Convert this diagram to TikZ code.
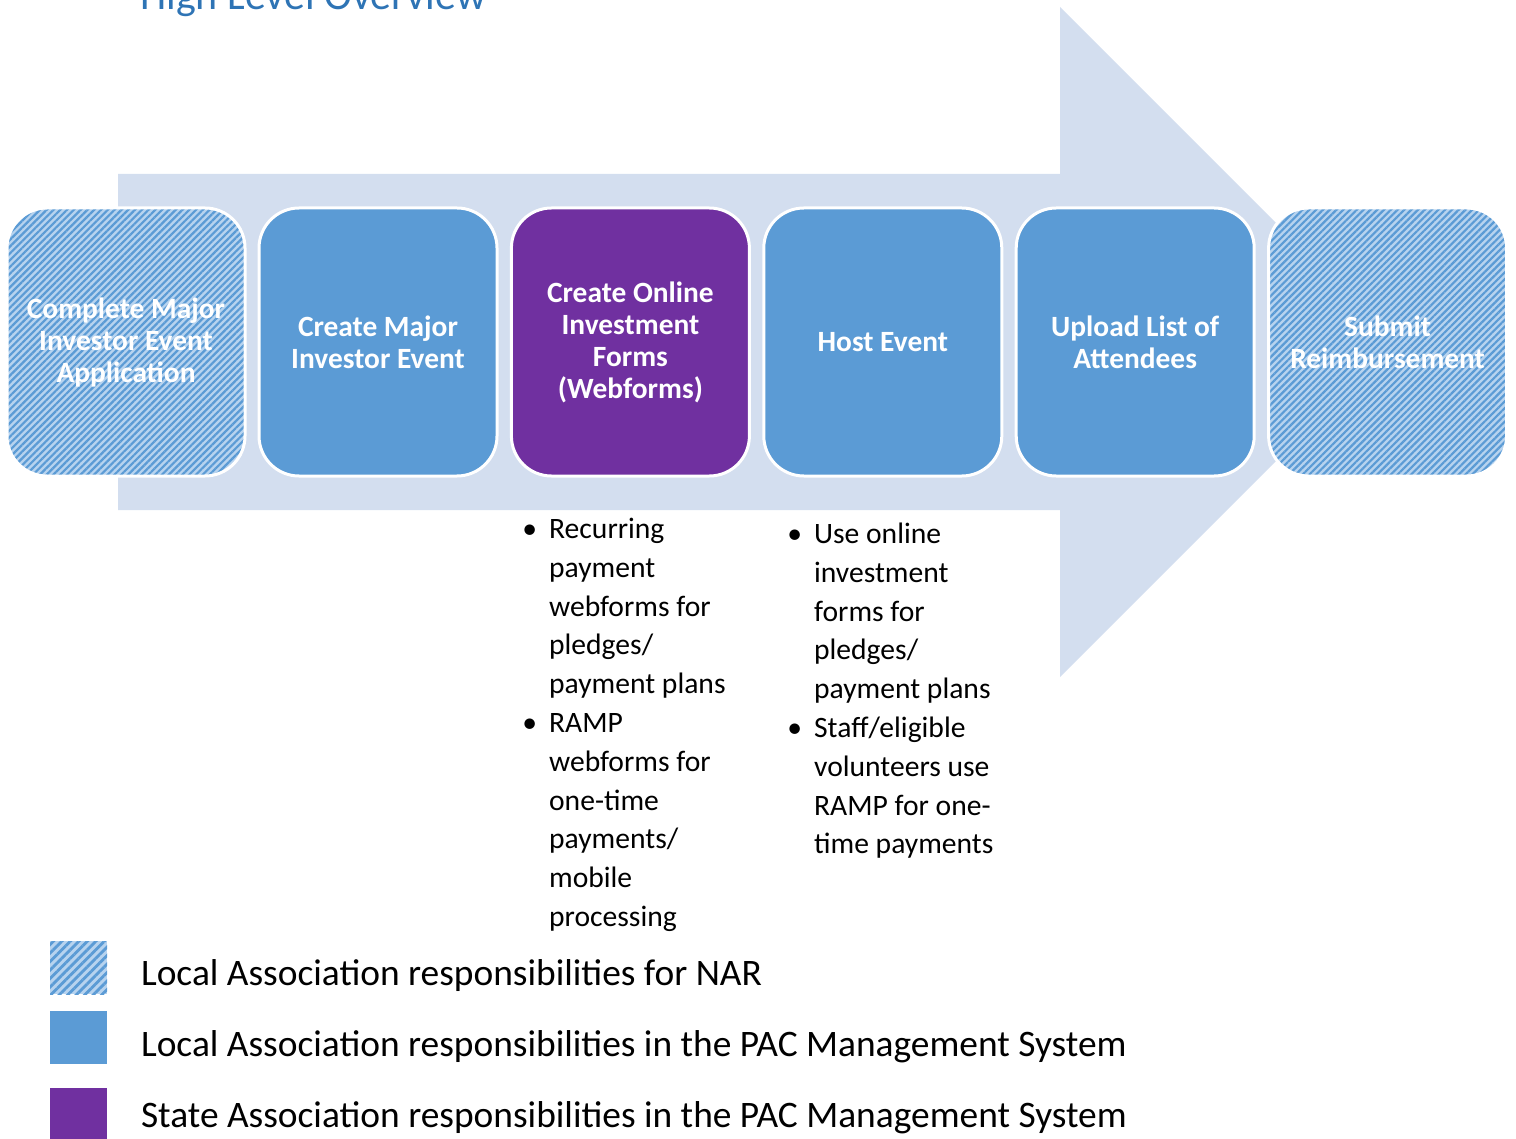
\documentclass[tikz,border=0pt]{standalone}
\usepackage{fontspec}
\setmainfont{Carlito}
\usetikzlibrary{positioning,patterns.meta}

\definecolor{arrowfill}{HTML}{D3DEEF}
\definecolor{boxblue}{HTML}{5B9BD5}
\definecolor{hatchlight}{HTML}{B7D3EF}
\definecolor{stateviolet}{HTML}{7030A0}
\definecolor{titleblue}{HTML}{2E74B5}

\tikzset{
  stepbox/.style={rounded corners=20pt, draw=white, line width=1.5pt,
    minimum width=119pt, minimum height=134pt, inner sep=2pt,
    align=center, text=white, font=\fontsize{14.7}{16}\selectfont\bfseries},
  localbox/.style={stepbox, fill=boxblue},
  statebox/.style={stepbox, fill=stateviolet},
  narbox/.style={stepbox, preaction={fill=hatchlight},
    pattern={Lines[angle=45,distance=2.4pt,line width=1.1pt]}, pattern color=boxblue},
  keybox/.style={minimum width=28.5pt, minimum height=26.5pt, inner sep=0pt},
  keytext/.style={anchor=west, font=\fontsize{18.7}{22}\selectfont},
  notes/.style={anchor=north west, inner sep=0pt, align=left,
    font=\fontsize{14.8}{19.4}\selectfont},
}

\begin{document}
\begin{tikzpicture}[x=0.5pt,y=-0.5pt]
  \useasboundingbox (0,0) rectangle (1516,1139);
  % big background arrow
  \fill[arrowfill] (118,174) -- (1060,174) -- (1060,7) -- (1395,342)
    -- (1060,677) -- (1060,510) -- (118,510) -- cycle;
  \node[anchor=base west, inner sep=0pt, text=titleblue, font=\fontsize{21}{24}\selectfont]
    (title) at (140,10) {High Level Overview};

  % process steps
  \node[narbox] (apply) at (126,342) {Complete Major\\Investor Event\\Application};
  \node[localbox, right=5.7pt of apply] (create) {Create Major\\Investor Event};
  \node[statebox, right=5.7pt of create] (webforms) {Create Online\\Investment\\Forms\\(Webforms)};
  \node[localbox, right=5.7pt of webforms] (host) {Host Event};
  \node[localbox, right=5.7pt of host] (upload) {Upload List of\\Attendees};
  \node[narbox, right=5.7pt of upload] (reimb) {Submit\\Reimbursement};

  % notes under the state and host steps
  \node[notes] (webnotes) at (522,511) {%
    \begin{tabular}{@{}l@{\hspace{6pt}}l@{}}
    \textbullet & Recurring\\
     & payment\\
     & webforms for\\
     & pledges/\\
     & payment plans\\
    \textbullet & RAMP\\
     & webforms for\\
     & one-time\\
     & payments/\\
     & mobile\\
     & processing
    \end{tabular}};
  \node[notes] (hostnotes) at (787,516) {%
    \begin{tabular}{@{}l@{\hspace{6pt}}l@{}}
    \textbullet & Use online\\
     & investment\\
     & forms for\\
     & pledges/\\
     & payment plans\\
    \textbullet & Staff/eligible\\
     & volunteers use\\
     & RAMP for one-\\
     & time payments
    \end{tabular}};

  % legend
  \node[keybox, preaction={fill=hatchlight},
    pattern={Lines[angle=45,distance=3pt,line width=1.4pt]}, pattern color=boxblue]
    (keynar) at (78.5,967.5) {};
  \node[keybox, fill=boxblue] (keylocal) at (78.5,1037) {};
  \node[keybox, fill=stateviolet] (keystate) at (78.5,1114) {};
  \node[keytext] (txtnar) at (134,976) {Local Association responsibilities for NAR};
  \node[keytext] (txtlocal) at (134,1047) {Local Association responsibilities in the PAC Management System};
  \node[keytext] (txtstate) at (134,1118) {State Association responsibilities in the PAC Management System};
\end{tikzpicture}
\end{document}
